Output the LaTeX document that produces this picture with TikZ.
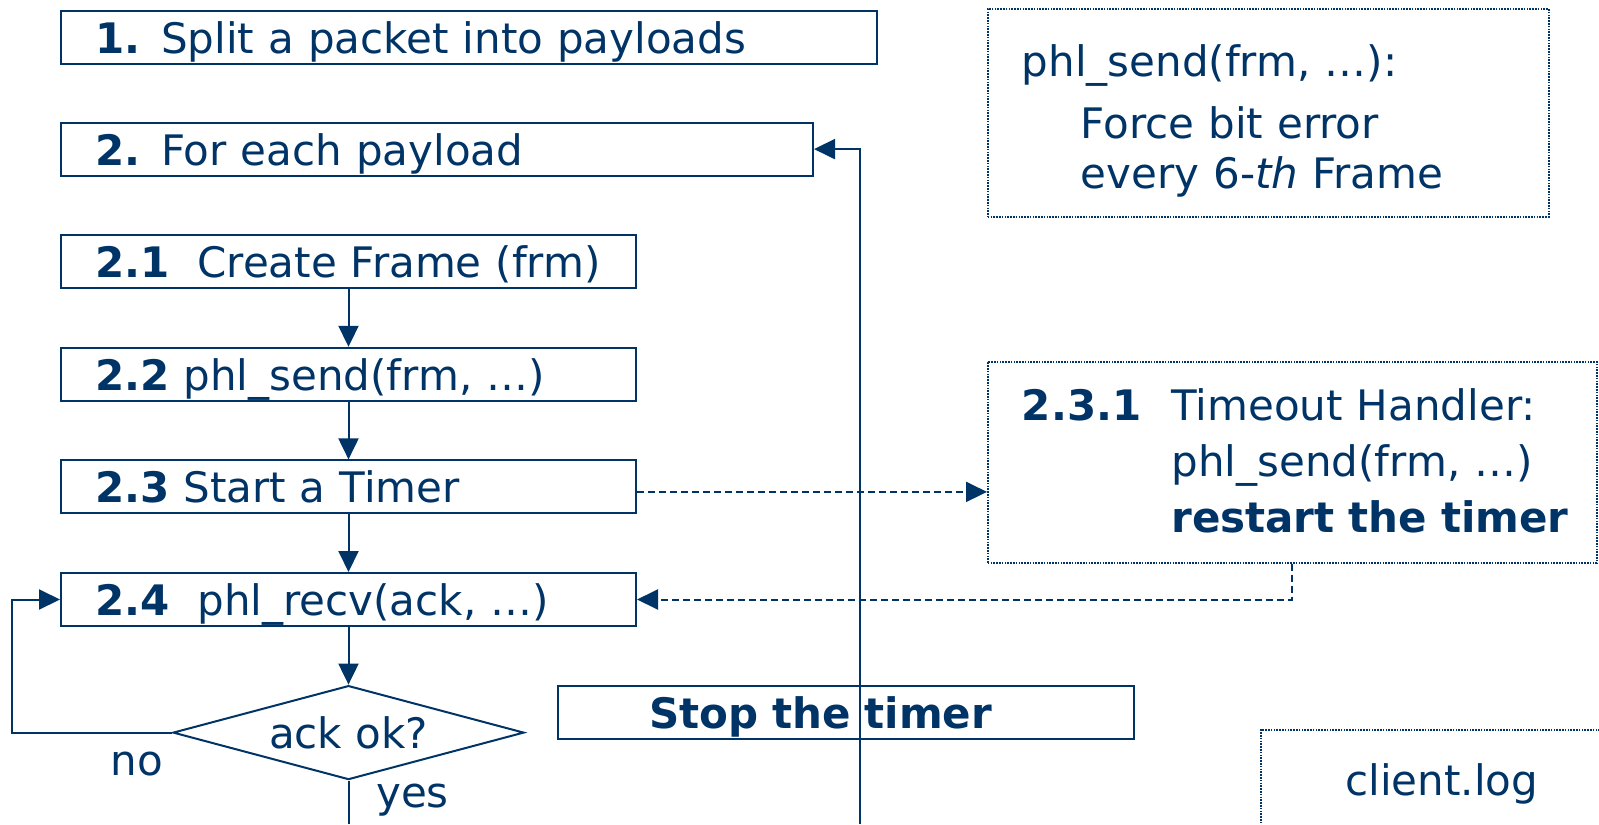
\documentclass[tikz,border=0pt]{standalone}
\usepackage{fontspec}
\setmainfont{DejaVu Sans}
\usepackage{xcolor}
\usepackage{tikz}
\usetikzlibrary{arrows.meta,positioning,shapes.geometric,calc}

\definecolor{navy}{RGB}{0,51,102}

\begin{document}
\begin{tikzpicture}[
  x=0.5pt, y=-0.5pt,
  node distance=28.8pt and 16pt,
  every node/.style={text=navy, font=\fontsize{21}{28}\selectfont},
  stepbox/.style={draw=navy, line width=1pt, align=left, inner xsep=17pt, inner ysep=5pt, minimum height=26.5pt, text height=16pt, text depth=0pt},
  notebox/.style={draw=navy, line width=0.8pt, dash pattern=on 0.8pt off 0.6pt, align=left, inner xsep=17pt},
  decision/.style={draw=navy, line width=1pt, diamond, aspect=3.66, inner sep=0pt, minimum width=175.5pt, minimum height=47pt},
  edge/.style={draw=navy, line width=1pt, -{Triangle[length=10.5pt, width=10pt]}},
  dashedge/.style={edge, dash pattern=on 3.5pt off 2pt},
  plain/.style={draw=navy, line width=1pt}
]
\path[use as bounding box] (0,0) rectangle (1599,824) coordinate (se);
\clip (0,0) rectangle (1599,824);

% main column
\node[stepbox, text width=374pt, anchor=north west] (split) at (60,10) {\textbf{1.} Split a packet into payloads};
\node[stepbox, text width=342pt, below=28.3pt of split.south west, anchor=north west] (each) {\textbf{2.} For each payload};
\node[stepbox, text width=253.5pt, below=of each.south west, anchor=north west] (frame) {\textbf{2.1}\ \ Create Frame (frm)};
\node[stepbox, text width=253.5pt, below=of frame] (send) {\textbf{2.2} phl\_send(frm, …)};
\node[stepbox, text width=253.5pt, below=of send] (timer) {\textbf{2.3} Start a Timer};
\node[stepbox, text width=253.5pt, below=of timer] (recv) {\textbf{2.4}\ \ phl\_recv(ack, …)};
\node[decision, below=of recv] (ackok) {ack ok?};
\node[stepbox, text width=197pt, inner xsep=45.5pt, anchor=north west] (stop) at ([xshift=16pt]ackok.east |- ackok.north) {\textbf{Stop the timer}};

% notes on the right
\node[notebox, text width=246.5pt, minimum height=104pt, anchor=north west] (fault) at (987,8)
  {\rule{0pt}{24pt}phl\_send(frm, …):\\[3pt]
   \hspace*{29.5pt}Force bit error\\[-3pt]
   \hspace*{29.5pt}every 6-\textit{th} Frame};
\node[notebox, text width=270.5pt, minimum height=100.5pt, anchor=north west] (handler) at (987,361)
  {\begin{tabular}{@{}l@{\hspace{15pt}}l@{}}
   \rule{0pt}{22.5pt}\textbf{2.3.1} & Timeout Handler:\\
                  & phl\_send(frm, …)\\
                  & \textbf{restart the timer}
   \end{tabular}};
\node[notebox, minimum width=181pt, minimum height=54pt, anchor=north west] (log) at (1260,729) {client.log};

% connectors
\draw[edge] (frame) -- (send);
\draw[edge] (send) -- (timer);
\draw[edge] (timer) -- (recv);
\draw[edge] (recv) -- (ackok);
\coordinate (noturn) at ([xshift=-24pt]recv.west |- ackok.west);
\draw[edge] (ackok.west) -- node[below, pos=0.22, yshift=-6pt] {no} (noturn) |- (recv.west);
\coordinate (yesout) at (ackok.south |- se);
\draw[plain] (ackok.south) -- node[right, pos=0.45, xshift=10pt] {yes} (yesout);
\coordinate (loopin) at ([xshift=23pt]each.east |- se);
\draw[edge] (loopin) |- (each.east);
\coordinate (timerout) at ([yshift=-2.5pt]timer.east);
\draw[dashedge] (timerout) -- (timerout -| handler.west);
\draw[dashedge] (handler.south) |- (recv.east);
\end{tikzpicture}
\end{document}
